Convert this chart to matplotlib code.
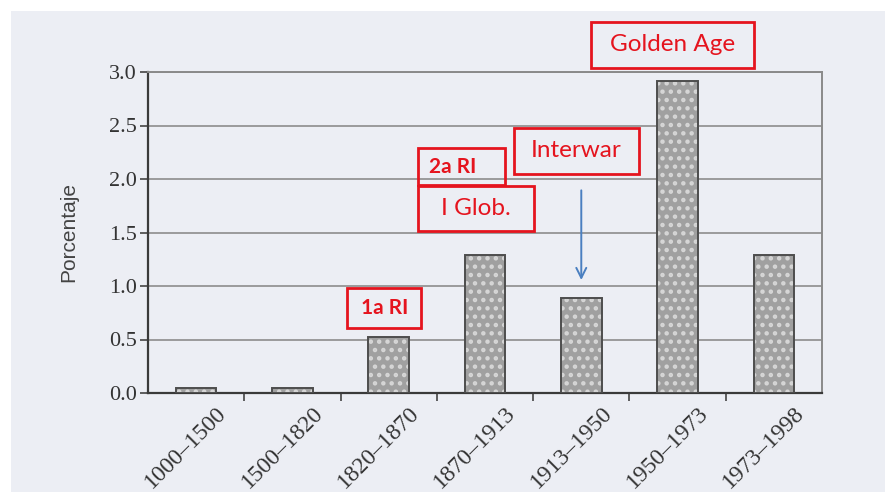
import matplotlib
matplotlib.use("Agg")
import matplotlib.pyplot as plt
import matplotlib.transforms as mtransforms
from matplotlib.patches import Rectangle

# ---- data ----
periods = ["1000–1500", "1500–1820", "1820–1870", "1870–1913",
           "1913–1950", "1950–1973", "1973–1998"]
growth = [0.05, 0.05, 0.52, 1.29, 0.89, 2.92, 1.29]
yticks = [0.0, 0.5, 1.0, 1.5, 2.0, 2.5, 3.0]
ylabel = "Porcentaje"

# annotation labels and boxes (x0, x1, y0, y1 in data units)
ann_labels = ["Golden Age", "Interwar", "2a RI", "I Glob.", "1a RI"]
ann_boxes = [(4.10, 5.79, 3.04, 3.47),
             (3.30, 4.60, 2.05, 2.48),
             (2.30, 3.21, 1.94, 2.29),
             (2.30, 3.51, 1.51, 1.93),
             (1.57, 2.34, 0.61, 0.98)]
ann_bold = [False, False, True, False, True]
ann_align = ["center", "center", "left", "center", "center"]
arrow_x = 4.0
arrow_from, arrow_to = 1.92, 1.03

RED = "#e5141e"
BG = "#eceef4"

plt.rcParams["hatch.linewidth"] = 2.0

fig = plt.figure(figsize=(8.85, 4.92), dpi=100)
fig.patch.set_facecolor("white")
# scanned page area
fig.patches.append(Rectangle((11 / 885, 0), 1, 1 - 11 / 492,
                             transform=fig.transFigure, facecolor=BG,
                             edgecolor="none", zorder=-10))

ax = fig.add_axes([148 / 885, 1 - 393 / 492, 674 / 885, 321 / 492])
ax.set_facecolor(BG)

x = list(range(len(periods)))
ax.bar(x, growth, width=0.42, color="#a0a0a0", edgecolor="#d6d6d6",
       hatch="..", linewidth=0, zorder=3)
ax.bar(x, growth, width=0.42, facecolor="none", edgecolor="#4d4d4d",
       linewidth=1.4, zorder=4)

ax.set_xlim(-0.5, len(periods) - 0.5)
ax.set_ylim(0, 3.0)
ax.set_yticks(yticks)
ax.set_yticklabels([f"{v:.1f}" for v in yticks],
                   fontfamily="Liberation Serif", fontsize=16, color="#333333")
ax.yaxis.grid(True, color="#8c8c8c", linewidth=1.2, zorder=1)
ax.set_axisbelow(True)

# x ticks at category boundaries, labels at centres
ax.set_xticks([i + 0.5 for i in x[:-1]])
ax.set_xticklabels([])
ax.set_xticks(x, minor=True)
ax.set_xticklabels(periods, minor=True, rotation=45, ha="right",
                   rotation_mode="anchor", fontfamily="Liberation Serif",
                   fontsize=17, color="#333333")
ax.tick_params(axis="x", which="minor", length=0, pad=7)
ax.tick_params(axis="x", which="major", length=6, width=1.2,
               color="#444444", direction="out")
ax.tick_params(axis="y", length=6, width=1.2, color="#444444", pad=2)
offset = mtransforms.ScaledTranslation(20 / 100, 0, fig.dpi_scale_trans)
for lab in ax.get_xticklabels(minor=True):
    lab.set_transform(lab.get_transform() + offset)

for side in ["left", "bottom"]:
    ax.spines[side].set_color("#3a3a3a")
    ax.spines[side].set_linewidth(1.6)
for side in ["top", "right"]:
    ax.spines[side].set_color("#8a8a8a")
    ax.spines[side].set_linewidth(1.4)

ax.set_ylabel(ylabel, fontfamily="Liberation Sans", fontsize=15,
              color="#444444", labelpad=22)

# annotations
for lab, (x0, x1, y0, y1), bold, al in zip(ann_labels, ann_boxes, ann_bold, ann_align):
    ax.add_patch(Rectangle((x0, y0), x1 - x0, y1 - y0, facecolor="none",
                           edgecolor=RED, linewidth=2.0, clip_on=False,
                           zorder=6))
    ty = (y0 + y1) / 2
    if al == "left":
        tx = x0 + 0.12
    else:
        tx = (x0 + x1) / 2
    ax.text(tx, ty, lab, ha=al, va="center", color=RED,
            fontfamily="Lato", fontsize=15 if bold else 17.5,
            fontweight="bold" if bold else "normal", clip_on=False, zorder=7)

ax.annotate("", xy=(arrow_x, arrow_to), xytext=(arrow_x, arrow_from),
            arrowprops=dict(arrowstyle="->", color="#4a7fc0", lw=1.4,
                            mutation_scale=18), zorder=7)

fig.savefig("out.png", dpi=100, facecolor=fig.get_facecolor())
